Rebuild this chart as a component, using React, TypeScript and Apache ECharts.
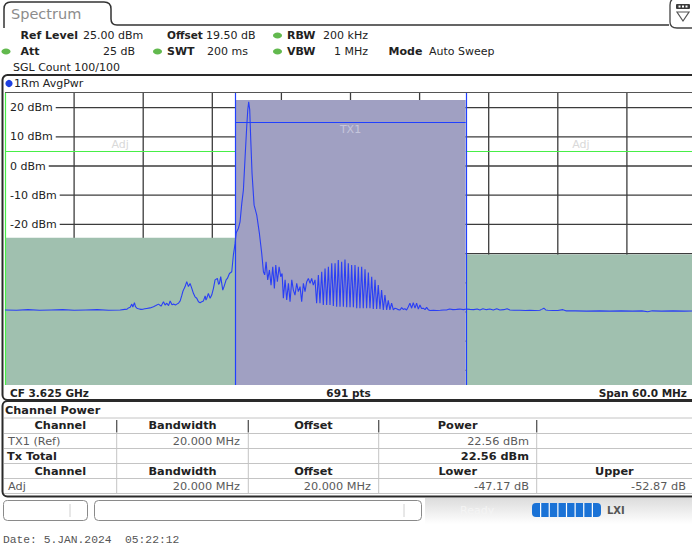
import React, { useEffect, useRef } from 'react';
import * as echarts from 'echarts';

const FONT = '"DejaVu Sans", Verdana, sans-serif';
const MONO = '"Liberation Mono", "DejaVu Sans Mono", monospace';

// ---- sweep settings ----
const refLevelDbm = 25;
const rangeDb = 100;
const centerFreqGHz = 3.625;
const spanMHz = 60;
const sweepPoints = 691;

// ---- graticule ----
const gridFreqs = [-24, -18, -12, -6, 0, 6, 12, 18, 24];
const gridLevels = [20, 10, 0, -10, -20, -30, -40, -50, -60, -70];
const gridLabelLevels = [20, 10, 0, -10, -20];

// ---- channels (MHz offset from CF) ----
const txPowerDbm = 22.56;
const adjLowerDb = -47.17;
const adjUpperDb = -52.87;
const channelBandwidthMHz = 20;
const adjOffsetMHz = 20;
const channelNames = ['Adj', 'Adj', 'TX1'];
const channelKinds = ['adj', 'adj', 'tx'];
const channelStart = [-30, 10, -10];
const channelEnd = [-10, 30, 10];
const channelLevel = [txPowerDbm + adjLowerDb, txPowerDbm + adjUpperDb, txPowerDbm];
const channelMarkLevel = [5, 5, 15.2];

// ---- trace: [MHz offset, dBm] ----
const trace: number[][] = [
  [-30, -49.3], [-29, -49.4], [-28, -49.2], [-27, -49.4], [-26, -49.3], [-25, -49.2], [-24, -49.4],
  [-23, -49.3], [-22, -49.2], [-21, -49.4], [-20, -49.3], [-19.6, -49.1], [-19.4, -49.0],
  [-19.28, -48.6], [-19.13, -48.4], [-18.99, -47.3], [-18.9, -48.3], [-18.76, -46.8], [-18.67, -48.2],
  [-18.55, -48.7], [-18.41, -48.9], [-18.2, -49.1], [-17.98, -49.0], [-17.7, -48.8], [-17.4, -48.6],
  [-17.11, -48.2], [-16.9, -47.8], [-16.67, -47.3], [-16.45, -48.0], [-16.24, -46.5], [-16.1, -47.6],
  [-15.95, -47.0], [-15.8, -47.8], [-15.66, -46.2], [-15.5, -47.5], [-15.37, -47.3], [-15.2, -47.6],
  [-15.08, -47.3], [-14.94, -47.0], [-14.79, -46.2], [-14.66, -44.5], [-14.56, -43.0], [-14.45, -42.0],
  [-14.36, -41.3], [-14.22, -39.6], [-14.07, -41.3], [-13.93, -40.2], [-13.78, -41.9], [-13.64, -43.6],
  [-13.5, -44.8], [-13.35, -45.3], [-13.2, -46.5], [-13.06, -46.8], [-12.92, -46.5], [-12.77, -46.2],
  [-12.62, -44.5], [-12.55, -45.9], [-12.48, -45.3], [-12.34, -43.6], [-12.19, -45.3], [-12.05, -44.2],
  [-11.9, -41.9], [-11.76, -39.0], [-11.56, -38.5], [-11.45, -40.5], [-11.38, -40.2], [-11.27, -37.9],
  [-11.09, -42.5], [-10.98, -41.3], [-10.8, -39.0], [-10.69, -38.5], [-10.51, -36.8], [-10.31, -36.2],
  [-10.17, -30.5], [-10.02, -26.5],
  [-9.93, -23.1], [-9.88, -22.5], [-9.73, -21.3], [-9.59, -19.1], [-9.44, -12.8], [-9.3, -8.2],
  [-9.15, 3.2], [-9.01, 13.5], [-8.92, 19.2], [-8.84, 22.0], [-8.75, 19.2], [-8.66, 8.9], [-8.55, -2.5],
  [-8.37, -13.4], [-8.14, -16.8], [-7.91, -23.1], [-7.71, -29.9], [-7.56, -36.2], [-7.45, -37.3],
  [-7.33, -32.8], [-7.19, -39.0], [-7.04, -35.6], [-6.9, -40.8], [-6.75, -34.5], [-6.61, -41.9],
  [-6.49, -33.9], [-6.35, -39.6], [-6.2, -34.5], [-6.06, -37.9], [-5.94, -36.8], [-5.83, -45.3],
  [-5.68, -39.0], [-5.54, -45.9], [-5.39, -40.2], [-5.25, -46.5], [-5.1, -39.0], [-4.96, -42.5],
  [-4.82, -44.2], [-4.67, -40.2], [-4.53, -43.0], [-4.38, -41.3], [-4.24, -46.5], [-4.09, -40.2],
  [-3.95, -43.0], [-3.8, -39.6], [-3.66, -38.5], [-3.51, -40.2], [-3.37, -38.5], [-3.23, -40.8],
  [-3.08, -39.0], [-2.94, -47.0], [-2.79, -37.3], [-2.65, -47.0], [-2.5, -36.2], [-2.36, -47.6],
  [-2.21, -35.1], [-2.07, -47.6], [-1.92, -34.5], [-1.78, -47.6], [-1.63, -33.3], [-1.49, -47.9],
  [-1.34, -33.3], [-1.2, -48.2], [-1.06, -32.2], [-0.91, -48.2], [-0.77, -32.8], [-0.62, -48.2],
  [-0.48, -32.0], [-0.33, -48.4], [-0.19, -33.3], [-0.04, -48.4], [0.1, -33.9], [0.25, -48.4],
  [0.39, -33.9], [0.54, -48.7], [0.68, -34.5], [0.82, -48.7], [0.97, -34.5], [1.11, -48.7],
  [1.26, -35.4], [1.4, -48.7], [1.55, -36.5], [1.69, -48.7], [1.84, -37.9], [1.98, -49.0],
  [2.13, -39.0], [2.27, -49.0], [2.41, -40.8], [2.56, -49.0], [2.7, -42.5], [2.85, -49.3],
  [2.99, -44.2], [3.14, -49.3], [3.28, -46.0], [3.42, -49.3], [3.57, -47.0], [3.72, -49.3],
  [3.86, -48.7], [4.01, -48.9], [4.15, -49.2], [4.3, -49.3], [4.44, -48.5], [4.58, -49.1],
  [4.72, -48.9], [4.87, -49.3], [5.01, -48.3], [5.16, -47.0], [5.31, -48.7], [5.45, -46.8],
  [5.6, -48.7], [5.74, -47.0], [5.89, -49.0], [6.03, -47.6], [6.17, -48.8], [6.32, -48.7],
  [6.47, -49.2], [6.61, -48.4], [6.75, -49.2], [6.9, -49.5], [7.2, -49.4], [7.48, -49.5],
  [7.8, -49.4], [8.1, -49.3], [8.34, -49.3], [8.6, -49.0], [8.9, -49.2], [9.21, -49.1],
  [9.5, -49.0], [9.8, -49.2], [10.1, -49.0], [10.37, -49.1],
  [10.7, -49.2], [11.0, -49.0], [11.24, -49.3], [11.5, -48.9], [11.8, -49.2], [12.1, -49.0],
  [12.4, -49.3], [12.7, -48.9], [12.97, -49.3], [13.3, -49.2], [13.6, -48.9], [13.84, -49.3],
  [14.2, -49.4], [14.71, -49.4], [15.2, -49.5], [15.57, -49.4], [16.0, -49.5], [16.44, -49.4],
  [16.6, -49.1], [16.79, -48.7], [16.95, -49.3], [17.14, -49.4], [17.6, -49.5], [18.0, -49.5],
  [18.44, -49.2], [18.7, -49.6], [19.5, -49.6], [20.5, -49.7], [21.65, -49.6], [22.5, -49.7],
  [23.5, -49.6], [24.5, -49.7], [25.3, -49.6], [25.81, -49.9], [26.2, -49.6], [27, -49.7],
  [28, -49.6], [29, -49.7], [30, -49.6],
];

// ---- header settings ----
const offsetDb = 19.5;
const rbwKHz = 200;
const attDb = 25;
const swtMs = 200;
const vbwMHz = 1;
const sglCount = 100;

// ---- table columns ----
const tableHeader1 = ['Channel', 'Bandwidth', 'Offset', 'Power', ''];
const tableHeader2 = ['Channel', 'Bandwidth', 'Offset', 'Lower', 'Upper'];

const dateText = 'Date: 5.JAN.2024  05:22:12';

echarts.graphic.registerShape(
  'specTab',
  echarts.graphic.extendPath('M4 28 L4 9 Q4 2 11 2 L104 2 Q111 2 111 9 L111 19 Q111 25 117 25 L669 25', {})
);
echarts.graphic.registerShape(
  'menuIcon',
  echarts.graphic.extendPath('M700 -2 L677 -2 Q670 -2 670 5 L670 22 Q670 28 677 28 L700 28', {})
);

function txt(x: number, y: number, text: string, o: any = {}) {
  const align = o.align || 'left';
  return {
    type: 'text',
    x,
    y,
    z: 20,
    silent: true,
    style: {
      text,
      fill: o.fill || '#222',
      font: `${o.bold ? 'bold ' : ''}${o.size || 11}px ${o.family || FONT}`,
      align,
      textAlign: align,
      verticalAlign: 'middle',
      textVerticalAlign: 'middle',
    },
  };
}
function hline(x1: number, x2: number, y: number, stroke: string, lw = 1, z = 20) {
  return { type: 'line', z, silent: true, shape: { x1, y1: y, x2, y2: y }, style: { stroke, lineWidth: lw } };
}
function vline(x: number, y1: number, y2: number, stroke: string, lw = 1, z = 20) {
  return { type: 'line', z, silent: true, shape: { x1: x, y1, x2: x, y2 }, style: { stroke, lineWidth: lw } };
}
function dot(cx: number, cy: number) {
  return { type: 'ellipse', z: 20, silent: true, shape: { cx, cy, rx: 4.5, ry: 3 }, style: { fill: '#62b94e' } };
}
const snap = (v: number) => Math.round(v) + 0.5;

function buildGraphic() {
  const g: any[] = [];
  // tab + header
  g.push({ type: 'specTab', z: 20, silent: true, style: { stroke: '#333', lineWidth: 1.5, fill: 'none' } });
  g.push(txt(11, 14, 'Spectrum', { size: 14.5, fill: '#8c8c8c' }));
  g.push({ type: 'menuIcon', z: 20, silent: true, style: { stroke: '#444', lineWidth: 1.3, fill: '#fff' } });
  g.push({ type: 'rect', z: 21, silent: true, shape: { x: 676, y: 4, width: 14, height: 5, r: 1 }, style: { fill: '#3a3a3a' } });
  [678.5, 682, 685.5].forEach((x) =>
    g.push({ type: 'rect', z: 22, silent: true, shape: { x, y: 5.5, width: 2, height: 2 }, style: { fill: '#fff' } })
  );
  g.push({ type: 'polygon', z: 21, silent: true, shape: { points: [[677, 12], [689, 12], [683, 21]] }, style: { fill: '#fff', stroke: '#555', lineWidth: 1.2 } });

  g.push(txt(20.5, 35, 'Ref Level', { bold: true }));
  g.push(txt(83, 35, `${refLevelDbm.toFixed(2)} dBm`));
  g.push(txt(167, 35, 'Offset', { bold: true, size: 10.5 }));
  g.push(txt(206, 35, `${offsetDb.toFixed(2)} dB`));
  g.push(dot(277.5, 35.5));
  g.push(txt(287, 35, 'RBW', { bold: true }));
  g.push(txt(368, 35, `${rbwKHz} kHz`, { align: 'right' }));

  g.push(dot(6, 51.5));
  g.push(txt(20.5, 51, 'Att', { bold: true }));
  g.push(txt(135, 51, `${attDb} dB`, { align: 'right' }));
  g.push(dot(157.5, 51.5));
  g.push(txt(167, 51, 'SWT', { bold: true }));
  g.push(txt(248, 51, `${swtMs} ms`, { align: 'right' }));
  g.push(dot(277.5, 51.5));
  g.push(txt(287, 51, 'VBW', { bold: true }));
  g.push(txt(368, 51, `${vbwMHz} MHz`, { align: 'right' }));
  g.push(txt(388.5, 51, 'Mode', { bold: true }));
  g.push(txt(429, 51, 'Auto Sweep'));
  g.push(txt(13, 67, `SGL Count ${sglCount}/${sglCount}`));

  // diagram frame
  g.push({ type: 'rect', z: 30, silent: true, shape: { x: 2.5, y: 75, width: 710, height: 325, r: 5 }, style: { fill: 'none', stroke: '#2a2a2a', lineWidth: 2 } });
  g.push(hline(5, 700, 92.5, '#555', 1));
  g.push({ type: 'circle', z: 21, silent: true, shape: { cx: 9, cy: 83.5, r: 3.6 }, style: { fill: '#1d3fe0' } });
  g.push(txt(14, 83.5, '1Rm AvgPwr'));
  g.push(txt(10, 392.5, `CF ${centerFreqGHz.toFixed(3)} GHz`, { bold: true, size: 10.5 }));
  g.push(txt(348.5, 392.5, `${sweepPoints} pts`, { bold: true, size: 10.5, align: 'center' }));
  g.push(txt(687, 392.5, `Span ${spanMHz.toFixed(1)} MHz`, { bold: true, size: 10.5, align: 'right' }));

  // table panel
  g.push({ type: 'rect', z: 30, silent: true, shape: { x: 2.5, y: 401, width: 710, height: 95.5, r: 5 }, style: { fill: 'none', stroke: '#2a2a2a', lineWidth: 2 } });
  g.push(txt(5, 410.5, 'Channel Power', { bold: true, size: 11.3 }));
  const colX = [4, 116.7, 248.3, 378.7, 536.7, 692];
  const rowY = [418, 433.5, 448.5, 463.5, 478.5, 493.5];
  rowY.forEach((y) => g.push(hline(4, 700, y, '#c4c4c4', 1)));
  for (let r = 0; r < 5; r++) {
    for (let c = 1; c < 5; c++) {
      const dark = r === 0;
      g.push(vline(colX[c], rowY[r] + (dark ? 2 : 0), rowY[r + 1] - (dark ? 1 : 0), dark ? '#555' : '#c4c4c4', dark ? 1.3 : 1));
    }
  }
  const cen = (c: number) => (colX[c] + colX[c + 1]) / 2;
  const rowMid = (r: number) => (rowY[r] + rowY[r + 1]) / 2;
  tableHeader1.forEach((h, c) => h && g.push(txt(cen(c), rowMid(0), h, { bold: true, size: 11.3, align: 'center' })));
  tableHeader2.forEach((h, c) => h && g.push(txt(cen(c), rowMid(3), h, { bold: true, size: 11.3, align: 'center' })));
  const grey = '#5a5a5a';
  g.push(txt(8, rowMid(1), 'TX1 (Ref)', { size: 11.3, fill: grey }));
  g.push(txt(240, rowMid(1), `${channelBandwidthMHz.toFixed(3)} MHz`, { size: 11.3, fill: grey, align: 'right' }));
  g.push(txt(529, rowMid(1), `${txPowerDbm.toFixed(2)} dBm`, { size: 11.3, fill: grey, align: 'right' }));
  g.push(txt(7, rowMid(2), 'Tx Total', { size: 11.3, bold: true }));
  g.push(txt(529, rowMid(2), `${txPowerDbm.toFixed(2)} dBm`, { size: 11.3, bold: true, align: 'right' }));
  g.push(txt(8, rowMid(4), 'Adj', { size: 11.3, fill: grey }));
  g.push(txt(240, rowMid(4), `${channelBandwidthMHz.toFixed(3)} MHz`, { size: 11.3, fill: grey, align: 'right' }));
  g.push(txt(371, rowMid(4), `${adjOffsetMHz.toFixed(3)} MHz`, { size: 11.3, fill: grey, align: 'right' }));
  g.push(txt(529, rowMid(4), `${adjLowerDb.toFixed(2)} dB`, { size: 11.3, fill: grey, align: 'right' }));
  g.push(txt(686, rowMid(4), `${adjUpperDb.toFixed(2)} dB`, { size: 11.3, fill: grey, align: 'right' }));

  // status bar
  g.push({
    type: 'rect', z: 5, silent: true, shape: { x: 425, y: 498, width: 275, height: 26 },
    style: { fill: new echarts.graphic.LinearGradient(0, 0, 0, 1, [{ offset: 0, color: '#dcdcdc' }, { offset: 1, color: '#ffffff' }]) },
  });
  g.push({ type: 'rect', z: 20, silent: true, shape: { x: 3.5, y: 500.5, width: 84, height: 20, r: 4 }, style: { fill: '#fff', stroke: '#8a8a8a', lineWidth: 1 } });
  g.push(vline(70, 504, 517, '#d0d0d0', 1));
  g.push({ type: 'rect', z: 20, silent: true, shape: { x: 94.5, y: 500.5, width: 327, height: 20, r: 4 }, style: { fill: '#fff', stroke: '#8a8a8a', lineWidth: 1 } });
  g.push(vline(404, 504, 517, '#d0d0d0', 1));
  g.push(txt(460, 510, 'Ready', { fill: '#f4f4f4', size: 11 }));
  g.push({ type: 'rect', z: 20, silent: true, shape: { x: 532, y: 503, width: 69, height: 14, r: 4 }, style: { fill: '#1a72d6' } });
  for (let i = 1; i < 8; i++) {
    g.push(vline(532 + i * (69 / 8), 503, 517, '#ffffff', 1.2, 21));
  }
  g.push(txt(607, 510, 'LXI', { fill: '#555', size: 10, bold: true }));

  g.push(txt(3, 540, dateText, { family: MONO, size: 11.3, fill: '#555' }));
  return g;
}

export default function App() {
  const ref = useRef<HTMLDivElement>(null);
  useEffect(() => {
    document.body.style.margin = '0';
    document.body.style.overflow = 'hidden';
    const chart = echarts.init(ref.current!, null, { renderer: 'svg' });
    const top = refLevelDbm;
    const bottom = refLevelDbm - rangeDb;
    const fMin = -spanMHz / 2;
    const fMax = spanMHz / 2;
    const txIdx = channelKinds.indexOf('tx');
    const txEdges = [channelStart[txIdx], channelEnd[txIdx]];
    const option: any = {
      animation: false,
      backgroundColor: '#ffffff',
      grid: { left: 5, top: 93, width: 691, height: 292, containLabel: false },
      xAxis: { type: 'value', min: fMin, max: fMax, show: false },
      yAxis: { type: 'value', min: bottom, max: top, show: false },
      series: [
        {
          type: 'custom', name: 'vgrid', z: 1, silent: true,
          data: gridFreqs.map((f) => [f, top]),
          renderItem: (_p: any, api: any) => {
            const a = api.coord([api.value(0), top]);
            const b = api.coord([api.value(0), bottom]);
            return { type: 'line', shape: { x1: a[0], y1: a[1], x2: b[0], y2: b[1] }, style: { stroke: '#3c3c3c', lineWidth: 1.3 } };
          },
        },
        {
          type: 'custom', name: 'hgrid', z: 1, silent: true,
          data: gridLevels.map((v) => [fMin, v]),
          renderItem: (_p: any, api: any) => {
            const a = api.coord([fMin, api.value(1)]);
            const b = api.coord([fMax, api.value(1)]);
            return { type: 'line', shape: { x1: a[0], y1: a[1], x2: b[0], y2: b[1] }, style: { stroke: '#3c3c3c', lineWidth: 1.3 } };
          },
        },
        {
          type: 'custom', name: 'ylabels', z: 2, silent: true,
          data: gridLabelLevels.map((v) => [fMin, v]),
          renderItem: (_p: any, api: any) => {
            const a = api.coord([fMin, api.value(1)]);
            return {
              type: 'text', x: a[0] + 1, y: a[1],
              style: {
                text: `${api.value(1)} dBm`, fill: '#222', font: `11px ${FONT}`,
                align: 'left', verticalAlign: 'middle', textAlign: 'left', textVerticalAlign: 'middle',
                backgroundColor: '#ffffff', padding: [1, 3, 1, 4],
              },
            };
          },
        },
        {
          type: 'custom', name: 'channels', z: 3, silent: true,
          data: channelNames.map((_n, i) => [channelStart[i], channelEnd[i], channelLevel[i], channelMarkLevel[i]]),
          renderItem: (params: any, api: any) => {
            const i = params.dataIndex;
            const isTx = channelKinds[i] === 'tx';
            const s = api.value(0), e = api.value(1), lvl = api.value(2), ml = api.value(3);
            const pT = api.coord([s, top]);
            const pL = api.coord([s, lvl]);
            const pB = api.coord([e, bottom]);
            const pM = api.coord([e, ml]);
            const x0 = pT[0], x1 = pB[0];
            const edge = isTx ? '#2040ff' : '#48ee48';
            const children: any[] = [
              { type: 'rect', shape: { x: x0, y: pL[1], width: x1 - x0, height: pB[1] - pL[1] }, style: { fill: isTx ? '#a0a0c2' : '#a0c0af' } },
            ];
            if (isTx || txEdges.indexOf(s) < 0) {
              children.push({ type: 'line', shape: { x1: snap(x0), y1: pT[1], x2: snap(x0), y2: pB[1] }, style: { stroke: edge, lineWidth: 1.2 } });
            }
            if (isTx || txEdges.indexOf(e) < 0) {
              children.push({ type: 'line', shape: { x1: snap(x1), y1: pT[1], x2: snap(x1), y2: pB[1] }, style: { stroke: edge, lineWidth: 1.2 } });
            }
            children.push({ type: 'line', shape: { x1: x0, y1: snap(pM[1]), x2: x1, y2: snap(pM[1]) }, style: { stroke: edge, lineWidth: 1.2 } });
            children.push({
              type: 'text', x: (x0 + x1) / 2, y: isTx ? pM[1] + 2.5 : pM[1] - 1.5,
              style: {
                text: channelNames[i], fill: isTx ? '#c6c6dc' : '#d9d9d9', font: `11px ${FONT}`,
                align: 'center', textAlign: 'center',
                verticalAlign: isTx ? 'top' : 'bottom', textVerticalAlign: isTx ? 'top' : 'bottom',
              },
            });
            return { type: 'group', children };
          },
        },
        {
          type: 'line', name: '1Rm AvgPwr', z: 4, silent: true,
          data: trace, showSymbol: false, symbol: 'none',
          lineStyle: { color: '#2a3ff5', width: 1.1 },
        },
      ],
      graphic: { elements: buildGraphic() },
    };
    chart.setOption(option);
    return () => chart.dispose();
  }, []);
  return (
    <div style={{ position: 'absolute', left: 0, top: 0, width: 692, height: 549, overflow: 'hidden' }}>
      <div ref={ref} style={{ width: 700, height: 549 }} />
    </div>
  );
}
